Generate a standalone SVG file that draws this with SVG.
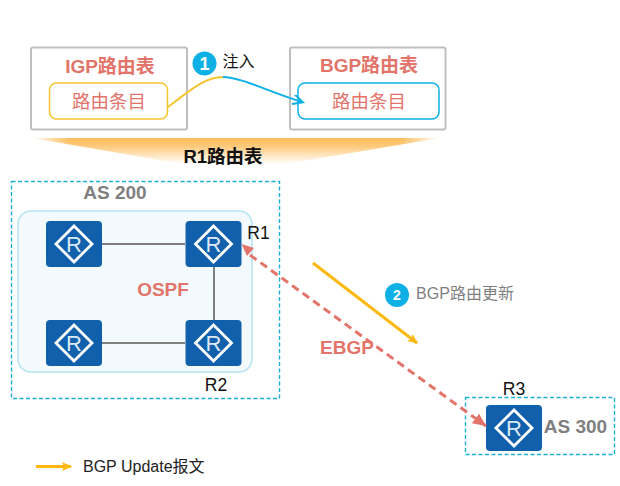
<svg xmlns="http://www.w3.org/2000/svg" width="620" height="486" viewBox="0 0 620 486">
<style>
text{font-family:"Liberation Sans","Noto Sans CJK SC",sans-serif}
.tb{fill:#fff;stroke:#bfbfbf;stroke-width:2}
.red{fill:#e2746a}
.b{font-weight:bold}
.gray{fill:#7f7f7f}
.as{fill:none;stroke:#1fb0d6;stroke-width:1.400;stroke-dasharray:4 2.500}
.lnk{stroke:#7f7f7f;stroke-width:2;fill:none}
.rt{fill:#1060ab}
.dm{fill:none;stroke:#fff;stroke-width:2.800}
.rl{fill:#dbe9f5;font-size:22px;text-anchor:middle}
</style>
<defs>
<linearGradient id="g" x1="0" y1="0" x2="0" y2="1"><stop offset="0" stop-color="#fdbd5a"/><stop offset="0.25" stop-color="#fdc878"/><stop offset="0.85" stop-color="#fff"/></linearGradient>
<linearGradient id="fl"><stop offset="0" stop-color="#fff"/><stop offset="1" stop-color="#fff" stop-opacity="0"/></linearGradient>
<linearGradient id="fr"><stop offset="0" stop-color="#fff" stop-opacity="0"/><stop offset="1" stop-color="#fff"/></linearGradient>
<g id="r"><rect x="-28" y="-23" width="56" height="46" rx="4" class="rt"/><path d="M0-18L18 0L0 18L-18 0Z" class="dm"/><text y="8" class="rl">R</text></g>
<marker id="ay" markerWidth="12" markerHeight="10" refX="9" refY="4.500" orient="auto" markerUnits="userSpaceOnUse"><path d="M0 0L10 4.500L0 9L2 4.500Z" fill="#fbb80f"/></marker>
<marker id="ab" markerWidth="14" markerHeight="12" refX="10" refY="5" orient="auto" markerUnits="userSpaceOnUse"><path d="M1 0L11 5L1 10" fill="none" stroke="#0fb0e6" stroke-width="2"/></marker>
<marker id="ar" markerWidth="16" markerHeight="14" refX="13" refY="6" orient="auto" markerUnits="userSpaceOnUse"><path d="M0 0L13 6L0 12Z" fill="#e2746a"/></marker>
</defs>
<g id="shade"><path d="M32 138H440L280 165Q225 173 170 162Z" fill="url(#g)"/><rect x="30" y="137" width="40" height="12" fill="url(#fl)"/><rect x="400" y="137" width="42" height="12" fill="url(#fr)"/></g>
<g id="igp"><rect class="tb" x="31" y="47.500" width="156" height="82" rx="2"/><text class="red b" x="110" y="73" font-size="19" text-anchor="middle">IGP路由表</text><rect x="49.500" y="83" width="118" height="36" rx="7" fill="#fff" stroke="#f7c531" stroke-width="1.500"/><text class="red" x="109" y="108" font-size="18.500" text-anchor="middle">路由条目</text></g>
<g id="bgp"><rect class="tb" x="290" y="47.500" width="155.500" height="82" rx="2"/><text class="red b" x="369" y="72" font-size="19" text-anchor="middle">BGP路由表</text><rect x="298" y="83" width="141" height="36" rx="7" fill="#fff" stroke="#0fb0e6" stroke-width="1.500"/><text class="red" x="369" y="108" font-size="18.500" text-anchor="middle">路由条目</text></g>
<text id="r1t" class="b" x="223" y="163" font-size="18.500" fill="#111" text-anchor="middle">R1路由表</text>
<rect id="as200" class="as" x="11.500" y="181.500" width="268" height="217"/>
<rect id="ospf" x="18" y="211" width="234" height="161" rx="13" fill="#f2fafe" stroke="#b5e3f2" stroke-width="1.500"/>
<rect id="as300" class="as" x="465.500" y="397.500" width="149" height="57"/>
<g id="n1"><use href="#r" x="74" y="244"/></g>
<g id="n2"><use href="#r" x="213.500" y="244"/><text x="258.500" y="239" font-size="17.500" fill="#111" text-anchor="middle">R1</text></g>
<g id="n3"><use href="#r" x="74" y="343"/></g>
<g id="n4"><use href="#r" x="213.500" y="343"/><text x="216" y="391" font-size="17.500" fill="#111" text-anchor="middle">R2</text></g>
<g id="n5"><use href="#r" x="514" y="428"/><text x="514" y="395" font-size="17.500" fill="#111" text-anchor="middle">R3</text><text class="gray b" x="575.500" y="433" font-size="19" text-anchor="middle">AS 300</text></g>
<g id="connectors">
<path class="lnk" d="M102 244H185M214 267V320M102 343H185"/>
<path d="M168 107C190 90 205 77 223 77" fill="none" stroke="#f7c531" stroke-width="2"/>
<path d="M223 77C240 77 270 92 302 102" fill="none" stroke="#0fb0e6" stroke-width="2" marker-end="url(#ab)"/>
<path d="M250 255L486 426" fill="none" stroke="#e2746a" stroke-width="3" stroke-dasharray="8 5" marker-end="url(#ar)"/>
<path d="M254 248L241.500 244L247 256Z" fill="#e2746a"/>
<path d="M313 263L417 343" fill="none" stroke="#fbb80f" stroke-width="3" marker-end="url(#ay)"/>
<path d="M36 466.500H71" fill="none" stroke="#fbb80f" stroke-width="3" marker-end="url(#ay)"/>
</g>
<text class="gray b" x="115" y="199" font-size="19" text-anchor="middle">AS 200</text>
<text class="red b" x="163" y="296" font-size="19" text-anchor="middle">OSPF</text>
<text class="red b" x="347" y="354" font-size="19" text-anchor="middle">EBGP</text>
<g id="s1"><circle cx="204.500" cy="63.500" r="12" fill="#0fb0e6"/><text x="204.500" y="70" fill="#fff" font-size="18" class="b" text-anchor="middle">1</text><text x="238.500" y="67" font-size="16" fill="#111" text-anchor="middle">注入</text></g>
<g id="s2"><circle cx="397" cy="295" r="12" fill="#0fb0e6"/><text x="397" y="300" fill="#fff" font-size="14" class="b" text-anchor="middle">2</text><text x="465" y="299" font-size="16" class="gray" text-anchor="middle">BGP路由更新</text></g>
<text id="legend" x="83" y="472" font-size="16" fill="#222">BGP Update报文</text>
</svg>
